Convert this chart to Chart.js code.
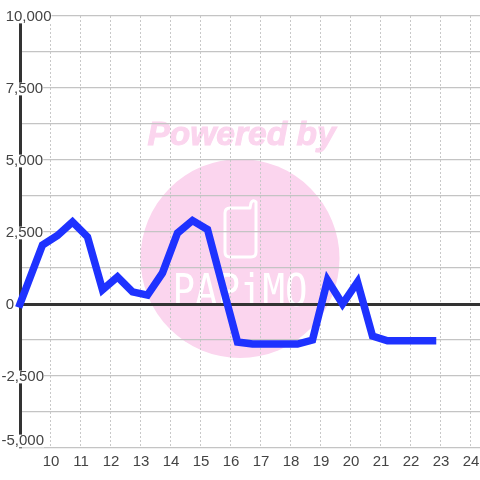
<!DOCTYPE html>
<html>
<head>
<meta charset="utf-8">
<script src="https://cdn.jsdelivr.net/npm/chart.js@4"></script>
<style>
  html, body { margin: 0; padding: 0; background: #fff; }
  #wrap { width: 480px; height: 480px; }
</style>
</head>
<body>
<div id="wrap"><canvas id="chart" width="480" height="480"></canvas></div>
<script>
const hours = [9, 9.75, 10.25, 10.75, 11.25, 11.75, 12.25, 12.75, 13.25, 13.75, 14.25, 14.75, 15.25, 15.75,
  16.25, 16.75, 17.25, 17.75, 18.25, 18.75, 19.25, 19.75, 20.25, 20.75, 21.25, 21.75, 22.25, 22.75];
const values = [0, 2050, 2380, 2850, 2330, 490, 940, 420, 310, 1080, 2465, 2900, 2590, 630,
  -1320, -1390, -1390, -1390, -1390, -1250, 830, 0, 760, -1110, -1280, -1280, -1280, -1280];
const yLabels = [10000, 7500, 5000, 2500, 0, -2500];

const pink = '#fbd5ee';
// the -5,000 label sits a bit above its gridline, so it gets its own tick
const bottomLabelAt = -4722;

// watermark behind the chart
const watermark = {
  id: 'watermark',
  beforeDraw(chart) {
    const c = chart.ctx;
    c.save();
    c.fillStyle = pink;
    c.strokeStyle = pink;
    c.beginPath();
    c.arc(240, 258.5, 99.5, 0, Math.PI * 2);
    c.fill();
    c.font = 'italic bold 33.5px "Liberation Sans"';
    c.textAlign = 'center';
    c.lineWidth = 1;
    c.fillText('Powered by', 241.5, 145);
    c.strokeText('Powered by', 241.5, 145);
    // phone
    c.strokeStyle = '#fff';
    c.lineWidth = 3;
    c.lineJoin = 'round';
    c.lineCap = 'round';
    c.beginPath();
    c.moveTo(250, 208);
    c.lineTo(230, 208);
    c.quadraticCurveTo(225, 208, 225, 213);
    c.lineTo(225, 252);
    c.quadraticCurveTo(225, 257, 230, 257);
    c.lineTo(251, 257);
    c.quadraticCurveTo(256, 257, 256, 252);
    c.lineTo(256, 202);
    c.quadraticCurveTo(253, 199, 251, 203);
    c.lineTo(250, 208);
    c.stroke();
    // logotype
    c.fillStyle = '#fff';
    c.translate(240, 306);
    c.scale(0.85, 1);
    c.font = '44px "DejaVu Sans Mono"';
    c.fillText('PAPiMO', 0, 0);
    c.restore();
  }
};

new Chart(document.getElementById('chart'), {
  type: 'line',
  data: {
    labels: hours,
    datasets: [{
      data: hours.map((h, i) => ({ x: h, y: values[i] })),
      borderColor: '#1e32ff',
      borderWidth: 7.5,
      borderCapStyle: 'square',
      pointRadius: 0,
      tension: 0,
      clip: false
    }]
  },
  options: {
    responsive: false,
    animation: false,
    layout: { autoPadding: false, padding: { top: 16 } },
    plugins: { legend: { display: false }, tooltip: { enabled: false } },
    scales: {
      x: {
        type: 'linear',
        min: 9,
        max: 24.3333,
        afterFit: s => { s.height = 32; s.paddingLeft = 0; s.paddingRight = 0; },
        border: { display: false, dash: [2, 2] },
        grid: {
          color: c => c.tick.value === 9 ? 'transparent' : '#c8c8c8',
          lineWidth: 1,
          drawTicks: false
        },
        ticks: {
          stepSize: 1,
          includeBounds: false,
          autoSkip: false,
          maxRotation: 0,
          padding: 5,
          labelOffset: 1,
          color: '#444',
          font: { family: '"Liberation Sans"', size: 15 },
          callback: v => v === 9 ? '' : String(v)
        }
      },
      y: {
        min: -5000,
        max: 10000,
        afterBuildTicks: s => { s.ticks.push({ value: bottomLabelAt }); },
        afterFit: s => { s.width = 20; s.paddingTop = 0; s.paddingBottom = 0; },
        border: { display: true, color: '#333', width: 3 },
        grid: {
          color: c => {
            if (c.tick.value === bottomLabelAt) return 'transparent';
            return c.tick.value === 0 ? '#333' : '#c4c4c4';
          },
          lineWidth: c => c.tick.value === 0 ? 3 : 1.3,
          drawTicks: false
        },
        ticks: {
          stepSize: 1250,
          autoSkip: false,
          mirror: true,
          padding: -18.5,
          labelOffset: 1,
          color: '#444',
          font: { family: '"Liberation Sans"', size: 15, lineHeight: 0.85 },
          showLabelBackdrop: true,
          backdropColor: '#fff',
          backdropPadding: c => c.tick && c.tick.value === bottomLabelAt ? { bottom: 2, right: 2 } : 0,
          callback: v => {
            if (v === bottomLabelAt) return '-5,000';
            if (!yLabels.includes(v)) return '';
            const txt = Math.abs(v).toLocaleString('en-US');
            return v < 0 ? '-' + txt : '\u00a0' + txt;
          }
        }
      }
    }
  },
  plugins: [watermark]
});
</script>
</body>
</html>
